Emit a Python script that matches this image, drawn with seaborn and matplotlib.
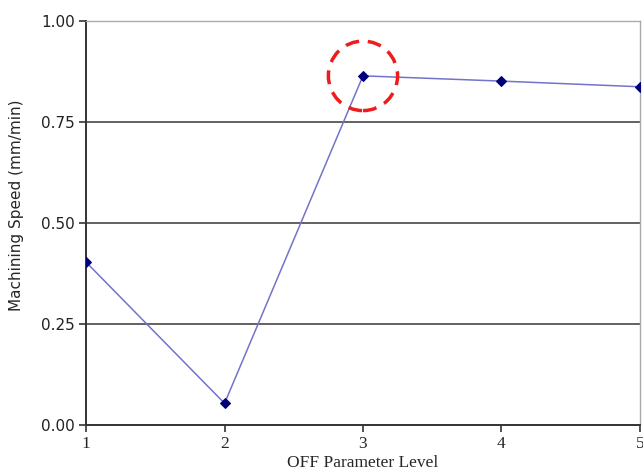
import matplotlib
matplotlib.use("Agg")
import matplotlib.pyplot as plt
import seaborn as sns
import pandas as pd
from matplotlib.patches import Ellipse

levels = [1, 2, 3, 4, 5]
speed = [0.403, 0.054, 0.864, 0.851, 0.837]
yticks = [0.00, 0.25, 0.50, 0.75, 1.00]
ytick_labels = ["0.00", "0.25", "0.50", "0.75", "1.00"]

sns.set_theme(style="white")
plt.rcParams['font.family'] = ['DejaVu Sans']

df = pd.DataFrame({"level": levels, "speed": speed})

fig = plt.figure(figsize=(6.43, 4.74), dpi=100)
ax = fig.add_axes([0.134, 0.103, 0.861, 0.853])

ax.set_xlim(1, 5)
ax.set_ylim(0, 1)
for y in yticks[1:-1]:
    ax.axhline(y, color="#555555", lw=1.3, zorder=1)

sns.lineplot(data=df, x="level", y="speed", ax=ax, color="#7373c9", lw=1.1,
             marker="D", markersize=5.5, markerfacecolor="#00007a",
             markeredgecolor="#00007a", zorder=3)

ax.add_patch(Ellipse((levels[2], speed[2]), width=0.5, height=0.172,
                     fill=False, edgecolor="#ee1c1c", lw=2.5,
                     linestyle=(0, (4, 2.5)), zorder=4, clip_on=False))

ax.set_xticks(levels)
ax.set_xticklabels([str(v) for v in levels], family="Liberation Serif", fontsize=12.5)
ax.set_yticks(yticks)
ax.set_yticklabels(ytick_labels, fontsize=11, color="#222222")

ax.set_xlabel("OFF Parameter Level", family="Liberation Serif", fontsize=12.5, labelpad=2)
ax.set_ylabel("Machining Speed (mm/min)", fontsize=11)
ax.yaxis.set_label_coords(-0.112, 0.545)

for s in ["left", "bottom"]:
    ax.spines[s].set_color("#333333")
    ax.spines[s].set_linewidth(1.4)
for s in ["top", "right"]:
    ax.spines[s].set_color("#aaaaaa")
    ax.spines[s].set_linewidth(1.0)

ax.tick_params(axis="both", which="major", direction="out", length=5, width=1.2,
               color="#333333", left=True, bottom=True, pad=3)

fig.savefig("out.png", dpi=100)
